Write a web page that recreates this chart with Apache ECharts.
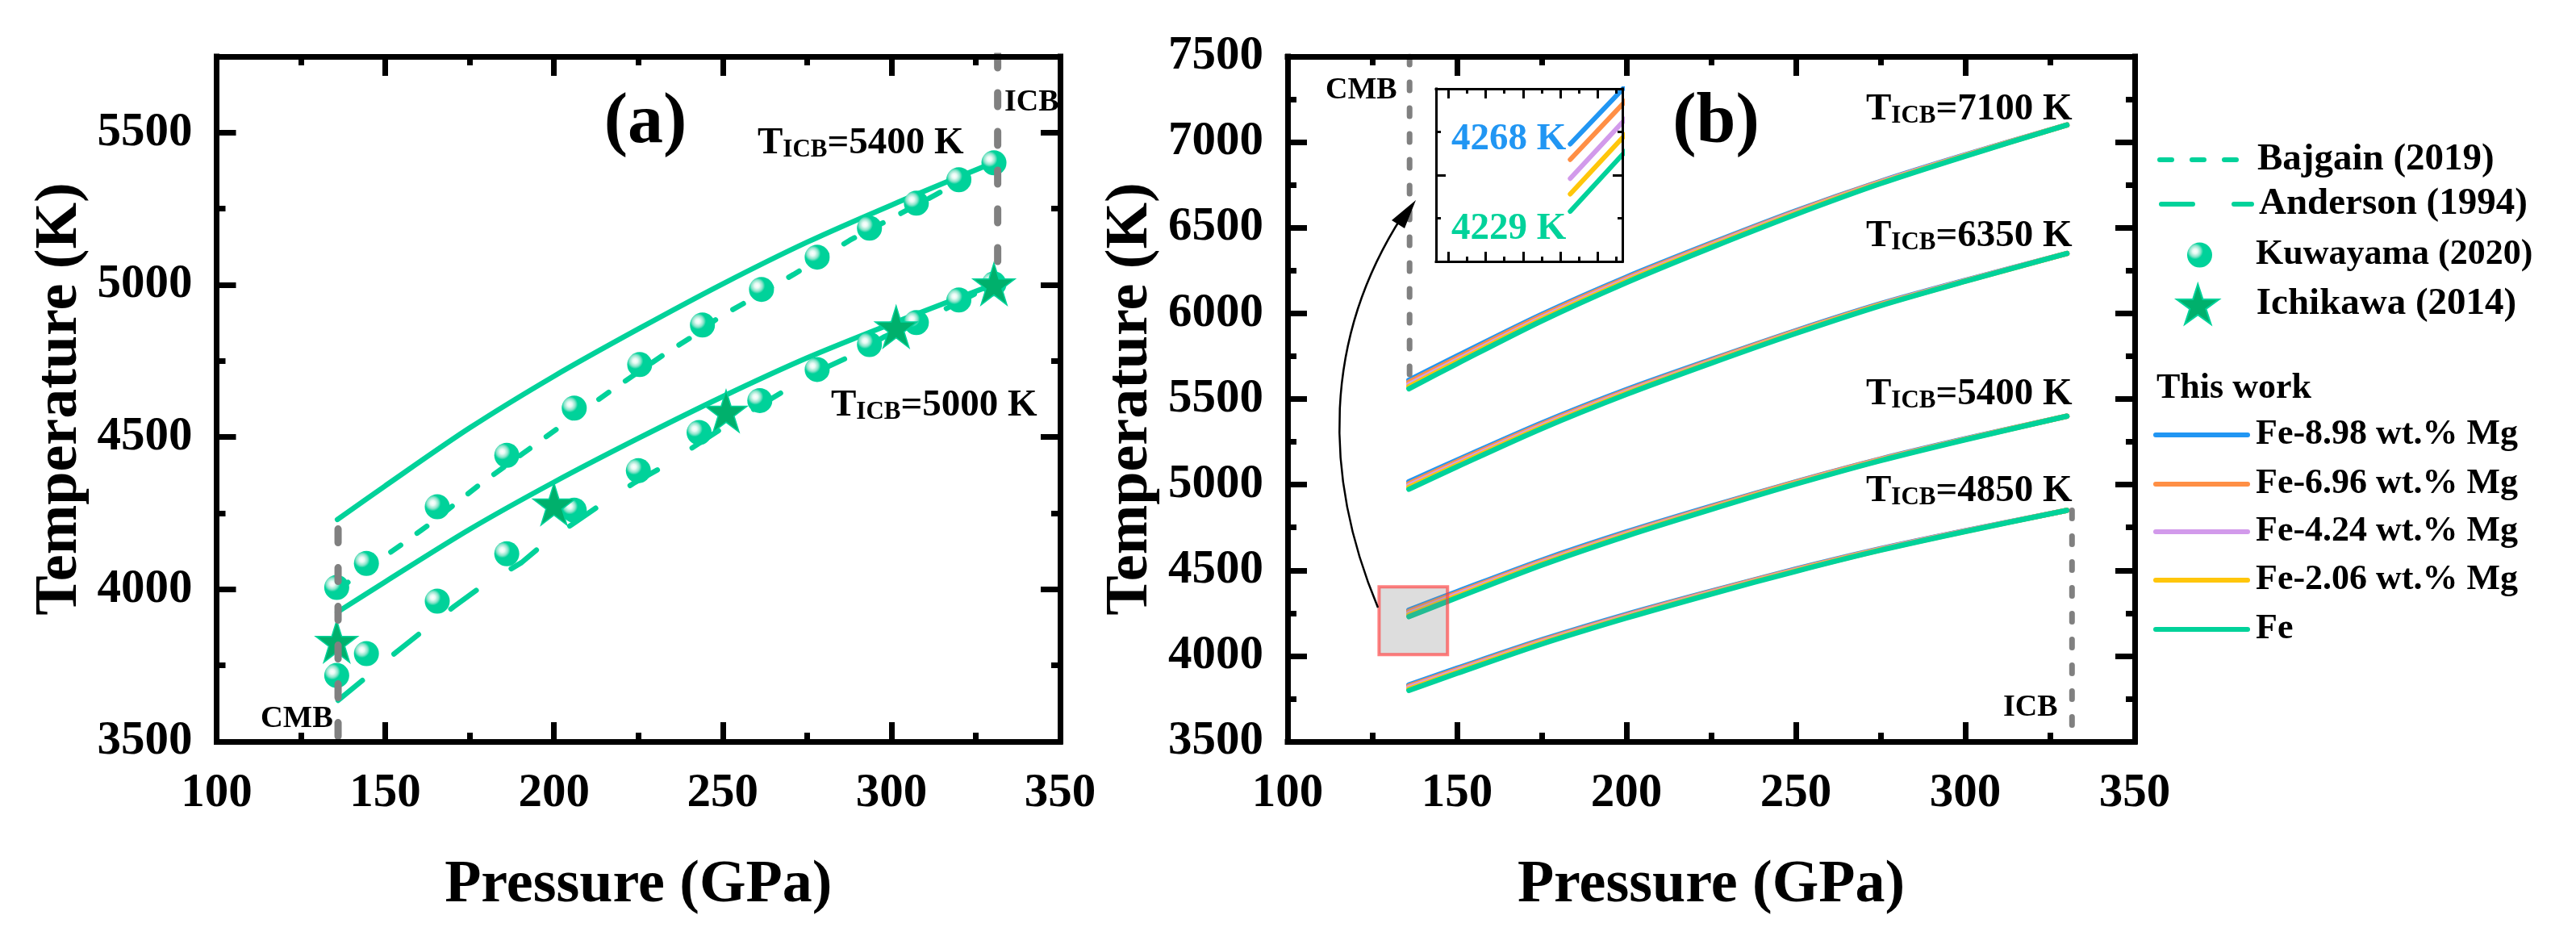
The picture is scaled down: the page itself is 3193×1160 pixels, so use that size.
<!DOCTYPE html>
<html><head><meta charset="utf-8">
<style>html,body{margin:0;padding:0;background:#fff}#c{width:3193px;height:1160px}</style>
<script src="https://cdn.jsdelivr.net/npm/echarts@6/dist/echarts.min.js"></script>
</head><body><div id="c"></div>
<script>
// ---------- data ----------
const pressureFit = [135.8,150,175,200,225,250,275,300,330];
const anderson = [[136,3635],[145,3717],[153.6,3797],[161.7,3868],[170.3,3943],[178.5,4009],[190.4,4088],[196.7,4147],[206,4218],[214,4279],[224,4351],[232.6,4404],[250,4530],[277,4710],[287.6,4764],[298,4830],[315,4915],[330,5000]];
const bajgain = [[136,4000],[154.8,4147],[162.4,4208],[177.5,4340],[190.4,4443],[201.4,4531],[217,4653],[233.5,4778],[241,4830],[249,4894],[258,4950],[271,5034],[287.6,5146],[299.5,5215],[313,5295],[330,5400]];
const kuwayama = [[135.6,4006],[144.4,4085],[165.4,4271],[186,4440],[206,4595],[225.4,4738],[244,4868],[261.5,4985],[278,5091],[293.5,5186],[307.4,5268],[320,5345],[330.4,5401],
                  [135.6,3717],[144.4,3789],[165.4,3961],[186,4117],[206,4260],[225,4390],[243,4515],[261,4620],[278,4722],[293.5,4804],[307.4,4876],[320,4950],[330.4,5003]];
const ichikawa = [[135.6,3829],[200,4280],[251,4585],[301.4,4862],[330.4,5003]];
const solidA5400 = [4229,4340,4530,4700,4855,5003,5140,5262,5400];
const solidA5000 = [3925,4025,4197,4352,4496,4633,4760,4872,5000];

const composition = ['Fe-8.98 wt.% Mg','Fe-6.96 wt.% Mg','Fe-4.24 wt.% Mg','Fe-2.06 wt.% Mg','Fe'];
const t7100 = [
 [5610,5751,5994,6212,6410,6599,6771,6926,7100],
 [5598,5740,5985,6204,6404,6594,6768,6924,7100],
 [5584,5727,5974,6196,6397,6589,6765,6922,7100],
 [5572,5717,5965,6188,6391,6584,6761,6920,7100],
 [5560,5706,5956,6180,6384,6578,6758,6918,7100]];
const t6350 = [
 [5017,5143,5360,5555,5730,5899,6056,6193,6350],
 [5006,5134,5352,5548,5725,5895,6053,6191,6350],
 [4995,5123,5343,5541,5719,5891,6050,6190,6350],
 [4984,5114,5335,5534,5714,5887,6048,6188,6350],
 [4973,5104,5327,5527,5709,5883,6045,6187,6350]];
const t5400 = [
 [4268,4375,4559,4724,4874,5017,5150,5268,5400],
 [4259,4367,4552,4718,4869,5014,5148,5266,5400],
 [4248,4358,4544,4712,4864,5010,5145,5265,5400],
 [4239,4349,4537,4706,4860,5007,5143,5264,5400],
 [4229,4340,4530,4700,4855,5003,5140,5262,5400]];
const t4850 = [
 [3831,3928,4094,4243,4378,4507,4626,4731,4850],
 [3823,3920,4088,4237,4374,4504,4624,4730,4850],
 [3815,3913,4081,4232,4370,4500,4622,4729,4850],
 [3806,3905,4075,4226,4365,4497,4619,4727,4850],
 [3798,3898,4069,4221,4361,4494,4617,4726,4850]];
const xMajor = [100,150,200,250,300,350];
const xMinor = [125,175,225,275,325];
const yMajorA = [3500,4000,4500,5000,5500];
const yMinorA = [3750,4250,4750,5250];
const yMajorB = [3500,4000,4500,5000,5500,6000,6500,7000,7500];
const yMinorB = [3750,4250,4750,5250,5750,6250,6750,7250];
const insetXMajor = [126,129,132,135,138];
const insetXMinor = [127.5,130.5,133.5,136.5,139.5];
const insetYMajor = [4250];
const insetYMinor = [4225,4275];
const cmbP = 136, icbP = 331.5;

// ---------- style ----------
const FE='#00D29A', BLUE='#2196F3', ORANGE='#FF8F45', PURPLE='#D29AEB', YELLOW='#FFC60A', GREY='#808080';
const compColors=[BLUE,ORANGE,PURPLE,YELLOW,FE];
const FONT='"Liberation Serif"';
const STAR='path://M50 0 L61.8 36.3 L100 36.3 L69.1 58.8 L80.9 95.1 L50 72.6 L19.1 95.1 L30.9 58.8 L0 36.3 L38.2 36.3 Z';
const sphere={type:'radial',x:.32,y:.35,r:.62,colorStops:[{offset:0,color:'#ffffff'},{offset:.16,color:'#e8faf4'},{offset:.36,color:'#8ce4cb'},{offset:.52,color:FE},{offset:1,color:FE}]};
const DASH_SHORT=[15,25], DASH_LONG=[39,51];

const grids=[
 {left:268.5,top:70,width:1045.5,height:849},
 {left:1596,top:70,width:1050,height:849},
 {left:1780,top:110,width:231,height:214}
];
const xAxes=[],yAxes=[];
function addAxes(list,g,posA,posB,min,max,major,minor,labels,lenMaj,lenMin,lw,tw,title,gap,margin){
  const first=list.length;
  const base={gridIndex:g,min,max,type:'value',splitLine:{show:false},z:4};
  const line={show:true,onZero:false,lineStyle:{color:'#000',width:lw,cap:'square'}};
  [posA,posB].forEach((pos,i)=>{
    const main=Object.assign({},base,{position:pos,axisLine:line,
      axisTick:{show:true,inside:true,length:lenMaj,customValues:major,lineStyle:{color:'#000',width:tw}},
      axisLabel:(i===0&&labels)?{show:true,customValues:major,margin,color:'#000',fontFamily:FONT,fontWeight:'bold',fontSize:59,formatter:v=>String(v)}:{show:false}});
    if(i===0&&title){Object.assign(main,{name:title,nameLocation:'middle',nameGap:gap,nameTextStyle:{color:'#000',fontFamily:FONT,fontWeight:'bold',fontSize:74}});}
    const mn=Object.assign({},base,{position:pos,axisLine:{show:false,onZero:false},
      axisTick:{show:true,inside:true,length:lenMin,customValues:minor,lineStyle:{color:'#000',width:tw}},
      axisLabel:{show:false}});
    list.push(main,mn);
  });
  return first;
}
const xa=addAxes(xAxes,0,'bottom','top',100,350,xMajor,xMinor,true,24,11,7,7,'Pressure (GPa)',142,35);
const ya=addAxes(yAxes,0,'left','right',3500,5750,yMajorA,yMinorA,true,24,11,7,7,'Temperature (K)',157,30);
const xb=addAxes(xAxes,1,'bottom','top',100,350,xMajor,xMinor,true,24,11,7,7,'Pressure (GPa)',142,35);
const yb=addAxes(yAxes,1,'left','right',3500,7500,yMajorB,yMinorB,true,24,11,7,7,'Temperature (K)',157,30);
const xi=addAxes(xAxes,2,'bottom','top',125,140,insetXMajor,insetXMinor,false,12,6,3,3);
const yi=addAxes(yAxes,2,'left','right',4200,4300,insetYMajor,insetYMinor,false,12,6,3,3);

const zip=(xs,ys)=>xs.map((x,i)=>[x,ys[i]]);
const series=[];
function line(name,data,xIdx,yIdx,color,width,dash,z,smooth){
  series.push({name,type:'line',xAxisIndex:xIdx,yAxisIndex:yIdx,data,symbol:'none',smooth:smooth?0.3:false,z:z||2,
    lineStyle:{color,width,type:dash||'solid',cap:'round'},itemStyle:{color},emphasis:{disabled:true},animation:false});
}
// panel (a)
line('This work A',zip(pressureFit,solidA5400),xa,ya,FE,6.5,null,2,true);
line('This work A',zip(pressureFit,solidA5000),xa,ya,FE,6.5,null,2,true);
line('Bajgain (2019)',bajgain,xa,ya,FE,6.5,DASH_SHORT);
line('Anderson (1994)',anderson,xa,ya,FE,6.5,DASH_LONG);
series.push({name:'Kuwayama (2020)',type:'scatter',xAxisIndex:xa,yAxisIndex:ya,data:kuwayama,symbol:'circle',symbolSize:31,itemStyle:{color:sphere,opacity:1},z:3,animation:false});
series.push({name:'Ichikawa (2014)',type:'scatter',xAxisIndex:xa,yAxisIndex:ya,data:ichikawa,symbol:STAR,symbolSize:52,itemStyle:{color:'#00B06C',borderColor:FE,borderWidth:1.5,opacity:1},z:3.5,animation:false});
line('CMB a',[[cmbP,3517],[cmbP,4221]],xa,ya,GREY,9,[17,31],3.8);
line('ICB a',[[icbP,5758],[icbP,5052]],xa,ya,GREY,9,[17,31],3.8);
// panel (b)
[t4850,t5400,t6350,t7100].forEach(group=>{
  group.forEach((vals,i)=>line(composition[i],zip(pressureFit,vals),xb,yb,compColors[i],6.5,null,2,true));
});
line('CMB b',[[cmbP,7500],[cmbP,5620]],xb,yb,GREY,7,[10,22],3.8);
line('ICB b',[[icbP,4850],[icbP,3500]],xb,yb,GREY,7,[10,22],3.8);
// inset
t5400.forEach((vals,i)=>line(composition[i],zip(pressureFit,vals),xi,yi,compColors[i],6));
// magnified region
series.push({name:'region',type:'line',xAxisIndex:xb,yAxisIndex:yb,data:[],symbol:'none',z:5,animation:false,
  markArea:{silent:true,z:5,itemStyle:{color:'rgba(128,128,128,0.27)',borderColor:'rgba(255,60,60,0.65)',borderWidth:4},
    data:[[{coord:[127,4403]},{coord:[147.2,4008]}]]}});

// ---------- legends ----------
const legendLines=[
 ['Bajgain (2019)',2674,198,100,16,FE,DASH_SHORT,47],
 ['Anderson (1994)',2676,253,112,4,FE,DASH_LONG,47],
 ['Fe-8.98 wt.% Mg',2669,539,114,5,BLUE,null,44],
 ['Fe-6.96 wt.% Mg',2669,600,114,5,ORANGE,null,44],
 ['Fe-4.24 wt.% Mg',2669,659,114,5,PURPLE,null,44],
 ['Fe-2.06 wt.% Mg',2669,719,114,5,YELLOW,null,44],
 ['Fe',2669,780,114,5,FE,null,44]];
const legendMarks=[
 ['Kuwayama (2020)',2711,316,115,31,7,44],
 ['Ichikawa (2014)',2697,377,115,50,10,47]];
const ltext=(p,f)=>({color:'#000',fontFamily:FONT,fontWeight:'bold',fontSize:f,lineHeight:52,padding:[0,0,0,p]});
const legend=legendLines.map(([n,l,y,w,p,c,d,f])=>({data:[n],left:l,top:y-26,itemWidth:w,itemHeight:10,padding:0,selectedMode:false,
    itemStyle:{opacity:0},lineStyle:{width:6,color:c,type:d||'solid',cap:'round',opacity:1},textStyle:ltext(p,f)}))
  .concat(legendMarks.map(([n,l,y,w,h,p,f])=>({data:[n],left:l,top:y-26,itemWidth:w,itemHeight:h,padding:0,selectedMode:false,textStyle:ltext(p,f)})));

// ---------- text ----------
function txt(text,x,y,size,color,align){
  return {type:'text',x,y,z:20,silent:true,style:{text,fontFamily:FONT,fontWeight:'bold',fontSize:size,fill:color||'#000',align:align||'left',verticalAlign:'middle'}};
}
function ticb(v,x,y){
  return {type:'text',x,y,z:20,silent:true,style:{text:'{t|T}{s|ICB}{t|='+v+' K}',align:'left',verticalAlign:'top',
    rich:{t:{fontFamily:FONT,fontWeight:'bold',fontSize:47,lineHeight:47,verticalAlign:'top',fill:'#000'},
          s:{fontFamily:FONT,fontWeight:'bold',fontSize:31,lineHeight:31,verticalAlign:'bottom',padding:[19,0,0,0],fill:'#000'}}}};
}
const graphic=[
 txt('(a)',800,153,88,'#000','center'),
 txt('(b)',2127,153,88,'#000','center'),
 txt('ICB',1245,127,38),
 txt('CMB',323,891,38.5),
 txt('CMB',1643,112,38),
 txt('ICB',2483,877,38),
 ticb('5400',939,154),
 ticb('5000',1030,479),
 ticb('7100',2313,112),
 ticb('6350',2313,269),
 ticb('5400',2313,465),
 ticb('4850',2313,585),
 txt('4268 K',1799,173,47,BLUE),
 txt('4229 K',1799,284,47,FE),
 txt('This work',2673,482,44),
 {type:'bezierCurve',z:20,silent:true,shape:{x1:1708,y1:753,cpx1:1640,cpy1:590,cpx2:1640,cpy2:420,x2:1738,y2:268},style:{fill:'none',stroke:'#000',lineWidth:2.5}},
 {type:'polygon',z:20,silent:true,shape:{points:[[1755,248],[1725,273],[1741,283]]},style:{fill:'#000'}}
];

const chart=echarts.init(document.getElementById('c'),null,{renderer:'canvas'});
chart.setOption({animation:false,backgroundColor:'#fff',grid:grids,xAxis:xAxes,yAxis:yAxes,series,legend,graphic,tooltip:{show:false}});
</script></body></html>
